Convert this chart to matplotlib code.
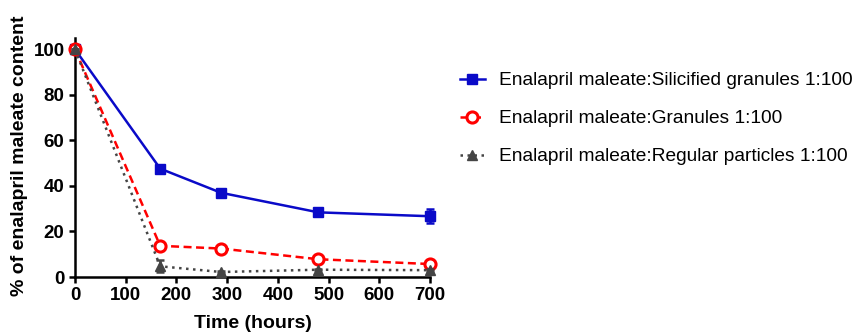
import numpy as np
import matplotlib
matplotlib.use('Agg')
import matplotlib.pyplot as plt

plt.rcParams['font.family'] = ['Liberation Sans', 'DejaVu Sans']

# Time points (hours)
hours = [0, 168, 288, 480, 700]

# % of enalapril maleate content remaining
silicified = [100, 47.6, 37.0, 28.4, 26.7]
silicified_err = [0, 0.8, 0.8, 0.8, 3.0]
granules = [100, 13.7, 12.5, 7.8, 5.7]
granules_err = [0, 0.8, 0.8, 0.8, 0.8]
regular = [100, 4.7, 2.2, 3.2, 3.0]
regular_err = [0, 2.6, 0.3, 0.3, 0.3]

labels = ['Enalapril maleate:Silicified granules 1:100',
          'Enalapril maleate:Granules 1:100',
          'Enalapril maleate:Regular particles 1:100']

dpi = 100
fig = plt.figure(figsize=(865/dpi, 333/dpi), dpi=dpi)
ax = fig.add_axes([75/865, 1-277/333, (430-75)/865, (277-38)/333])

blue = '#0a0ac8'
red = '#ff0000'
grey = '#454545'

ax.errorbar(hours, silicified, yerr=silicified_err, color=blue, lw=1.8, ls='-',
            marker='s', ms=6.5, mfc=blue, mec=blue, capsize=3, capthick=1.8,
            elinewidth=1.8, label=labels[0], clip_on=False, zorder=3)
ax.errorbar(hours, granules, yerr=granules_err, color=red, lw=1.8, ls=(0, (3.2, 1.8)),
            marker='o', ms=8, mfc='white', mec=red, mew=2.2, capsize=2, capthick=1.5,
            elinewidth=1.5, label=labels[1], clip_on=False, zorder=4)
ax.errorbar(hours, regular, yerr=regular_err, color=grey, lw=1.8, ls=(0, (1, 1.8)),
            marker='^', ms=7, mfc=grey, mec=grey, capsize=3, capthick=1.8,
            elinewidth=1.8, label=labels[2], clip_on=False, zorder=5)

ax.set_xlim(0, 700)
ax.set_ylim(0, 105)
ax.set_xticks(range(0, 701, 100))
ax.set_yticks(range(0, 101, 20))
for s in ['top', 'right']:
    ax.spines[s].set_visible(False)
for s in ['left', 'bottom']:
    ax.spines[s].set_linewidth(1.8)
ax.tick_params(width=1.8, length=4.5, labelsize=13.5, pad=3)
for t in ax.get_xticklabels() + ax.get_yticklabels():
    t.set_fontweight('bold')

# axis titles placed in figure pixels
fig.text((75+430)/2/865, 1-323/333, 'Time (hours)', fontsize=14, fontweight='bold',
         ha='center', va='center')
fig.text(20/865, 1-156/333, '% of enalapril maleate content', fontsize=14,
         fontweight='bold', rotation=90, ha='center', va='center')

h, l = ax.get_legend_handles_labels()
h = [x[0] for x in h]
fig.legend(h, l, loc='upper left', bbox_to_anchor=(460/865, 1-72/333),
           frameon=False, fontsize=13.8, handlelength=1.3, handletextpad=0.75,
           labelspacing=1.07, borderaxespad=0, borderpad=0)

fig.savefig('out.png', dpi=dpi)
